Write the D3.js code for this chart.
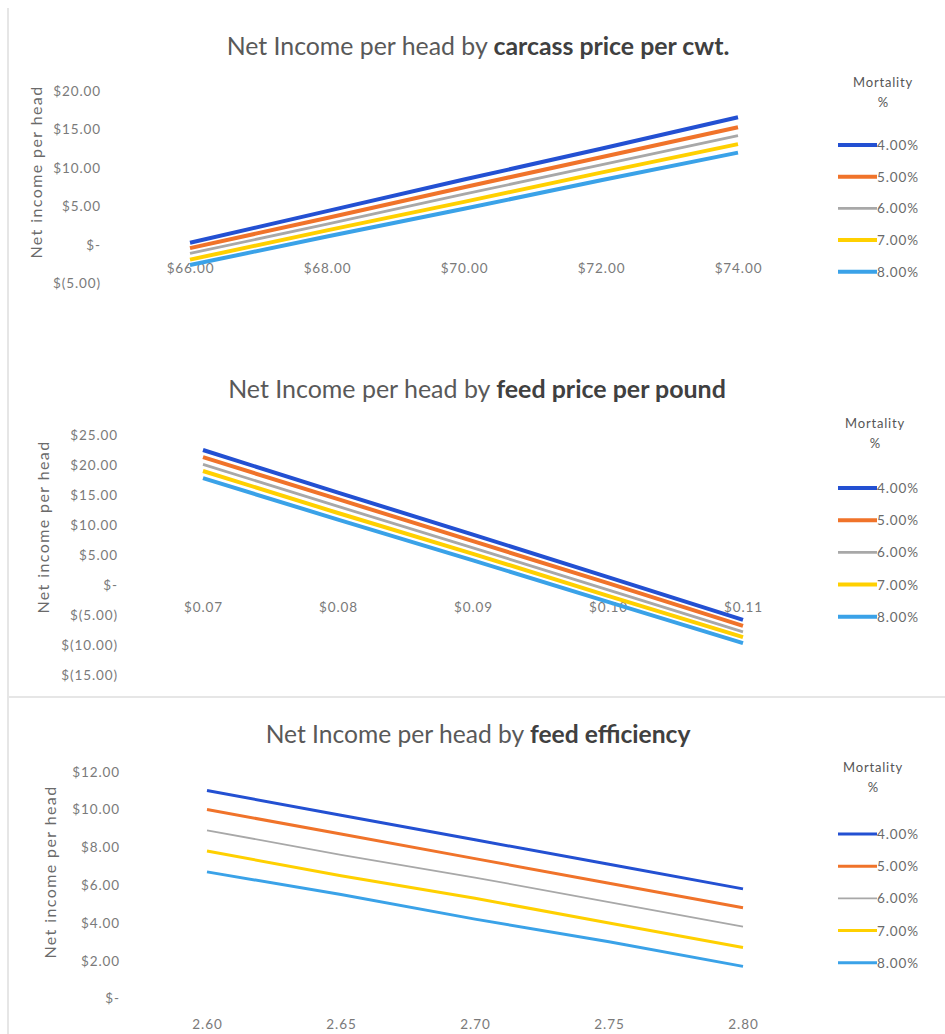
<!DOCTYPE html>
<html>
<head>
<meta charset="utf-8">
<script src="https://cdn.jsdelivr.net/npm/d3@7"></script>
<style>
  html, body { margin: 0; padding: 0; background: #fff; }
  svg { display: block; font-family: Lato, "Open Sans", sans-serif; }
</style>
</head>
<body>
<svg id="chart" width="945" height="1034"></svg>
<script>
// Mortality series shared by all three panels
const mortality = ["4.00%", "5.00%", "6.00%", "7.00%", "8.00%"];
const seriesColors = ["#2350d2", "#f0732a", "#a8a8a8", "#ffd000", "#3aa2e8"];

// Panel 1: carcass price per cwt
const carcassPrices = ["$66.00", "$68.00", "$70.00", "$72.00", "$74.00"];
const carcassTicks = [-5, 0, 5, 10, 15, 20];
const carcass4 = [0.3, 4.4, 8.5, 12.5, 16.6];
const carcass5 = [-0.4, 3.5, 7.5, 11.4, 15.3];
const carcass6 = [-1.1, 2.7, 6.6, 10.4, 14.2];
const carcass7 = [-1.9, 1.9, 5.6, 9.4, 13.1];
const carcass8 = [-2.6, 1.1, 4.7, 8.4, 12.0];

// Panel 2: feed price per pound
const feedPrices = ["$0.07", "$0.08", "$0.09", "$0.10", "$0.11"];
const feedPriceTicks = [-15, -10, -5, 0, 5, 10, 15, 20, 25];
const feedPrice4 = [22.5, 15.4, 8.4, 1.3, -5.8];
const feedPrice5 = [21.3, 14.3, 7.3, 0.3, -6.8];
const feedPrice6 = [20.1, 13.1, 6.2, -0.8, -7.8];
const feedPrice7 = [19.0, 12.0, 5.2, -1.8, -8.7];
const feedPrice8 = [17.8, 10.9, 4.1, -2.8, -9.7];

// Panel 3: feed efficiency
const feedEfficiency = ["2.60", "2.65", "2.70", "2.75", "2.80"];
const efficiencyTicks = [0, 2, 4, 6, 8, 10, 12];
const efficiency4 = [11.0, 9.7, 8.4, 7.1, 5.8];
const efficiency5 = [10.0, 8.7, 7.4, 6.1, 4.8];
const efficiency6 = [8.9, 7.6, 6.4, 5.1, 3.8];
const efficiency7 = [7.8, 6.5, 5.3, 4.0, 2.7];
const efficiency8 = [6.7, 5.5, 4.2, 3.0, 1.7];

const svg = d3.select("#chart");

// faint frame lines around the chart boxes
const frame = svg.append("g").attr("stroke", "#e6e6e6").attr("fill", "none");
frame.append("line").attr("x1", 8).attr("x2", 8).attr("y1", 8).attr("y2", 1034).attr("stroke-width", 2);
frame.append("line").attr("x1", 8).attr("x2", 945).attr("y1", 697).attr("y2", 697).attr("stroke-width", 2);

function money(v) {
  if (v === 0) return "$-";
  if (v < 0) return "$(" + Math.abs(v).toFixed(2) + ")";
  return "$" + v.toFixed(2);
}

const tickFont = 13.5;
const tickSpacing = 0.9;

function drawPanel(cfg) {
  const g = svg.append("g");

  // title: regular lead-in followed by a bold subject
  const title = g.append("text")
    .attr("x", cfg.titleX).attr("y", cfg.titleY)
    .attr("text-anchor", "middle")
    .attr("dominant-baseline", "central")
    .attr("font-size", 19)
    .attr("fill", "#595959");
  title.append("tspan").text("Net Income per head by ");
  title.append("tspan").attr("font-weight", "bold").attr("fill", "#404040").text(cfg.titleBold);
  const w = title.node().getComputedTextLength();
  title.attr("font-size", 19 * cfg.titleWidth / w);

  const x = d3.scalePoint().domain(cfg.categories).range(cfg.xRange);
  const y = d3.scaleLinear().domain(cfg.yDomain).range(cfg.yRange);

  // value axis
  const yAxis = g.append("g")
    .attr("transform", `translate(${cfg.yLabelX},0)`)
    .call(d3.axisLeft(y).tickValues(cfg.yTicks).tickSize(0).tickPadding(0).tickFormat(money));
  yAxis.select(".domain").remove();
  yAxis.selectAll("text")
    .attr("font-size", tickFont).attr("fill", "#7a7a7a")
    .attr("letter-spacing", tickSpacing)
    .attr("font-family", "Lato, 'Open Sans', sans-serif");

  // category axis, labels sitting just below the zero line
  const xAxis = g.append("g")
    .attr("transform", `translate(0,${y(cfg.xAxisAt)})`)
    .call(d3.axisBottom(x).tickSize(0).tickPadding(0));
  xAxis.select(".domain").remove();
  xAxis.selectAll("text")
    .attr("dy", 0).attr("y", cfg.xLabelOffset)
    .attr("dominant-baseline", "central")
    .attr("font-size", tickFont).attr("fill", "#7a7a7a")
    .attr("letter-spacing", tickSpacing)
    .attr("font-family", "Lato, 'Open Sans', sans-serif");

  // y axis title
  g.append("text")
    .attr("transform", `translate(${cfg.yTitleX},${cfg.yTitleY}) rotate(-90)`)
    .attr("text-anchor", "middle")
    .attr("dominant-baseline", "central")
    .attr("font-size", 16)
    .attr("letter-spacing", 1.4)
    .attr("fill", "#6a6a6a")
    .text("Net income per head");

  // series lines
  const line = d3.line().x((d, i) => x(cfg.categories[i])).y(d => y(d));
  cfg.series.forEach((vals, k) => {
    g.append("path")
      .datum(vals)
      .attr("fill", "none")
      .attr("stroke", seriesColors[k])
      .attr("stroke-width", k === 2 ? cfg.lineWidth - 1.2 : cfg.lineWidth)
      .attr("stroke-linecap", "butt")
      .attr("d", line);
  });

  // legend
  const lg = g.append("g");
  lg.append("text").attr("x", cfg.legendTitleX).attr("y", cfg.legendTitleY)
    .attr("text-anchor", "middle").attr("dominant-baseline", "central")
    .attr("font-size", 13).attr("letter-spacing", 0.8)
    .attr("fill", "#555").text("Mortality");
  lg.append("text").attr("x", cfg.legendTitleX).attr("y", cfg.legendTitleY + 20)
    .attr("text-anchor", "middle").attr("dominant-baseline", "central")
    .attr("font-size", 13).attr("fill", "#555").text("%");
  mortality.forEach((m, k) => {
    const yy = cfg.legendY + k * cfg.legendStep;
    lg.append("line")
      .attr("x1", 838).attr("x2", 877).attr("y1", yy).attr("y2", yy)
      .attr("stroke", seriesColors[k])
      .attr("stroke-width", k === 2 ? cfg.lineWidth - 1.2 : cfg.lineWidth);
    lg.append("text").attr("x", 877).attr("y", yy)
      .attr("dominant-baseline", "central")
      .attr("font-size", 13.5).attr("letter-spacing", 0.9)
      .attr("fill", "#6a6a6a").text(m);
  });
}

drawPanel({
  titleBold: "carcass price per cwt.", titleX: 478, titleY: 45, titleWidth: 503,
  categories: carcassPrices, xRange: [190, 738],
  yDomain: [-5, 20], yRange: [283.5, 91], yTicks: carcassTicks,
  yLabelX: 101, xAxisAt: 0, xLabelOffset: 23,
  yTitleX: 35, yTitleY: 172,
  series: [carcass4, carcass5, carcass6, carcass7, carcass8], lineWidth: 4,
  legendTitleX: 883, legendTitleY: 82, legendY: 145, legendStep: 31.7
});

drawPanel({
  titleBold: "feed price per pound", titleX: 477, titleY: 388, titleWidth: 498,
  categories: feedPrices, xRange: [203, 743],
  yDomain: [-15, 25], yRange: [675, 435], yTicks: feedPriceTicks,
  yLabelX: 118, xAxisAt: 0, xLabelOffset: 22,
  yTitleX: 42, yTitleY: 527,
  series: [feedPrice4, feedPrice5, feedPrice6, feedPrice7, feedPrice8], lineWidth: 4,
  legendTitleX: 875, legendTitleY: 423, legendY: 488, legendStep: 32.2
});

drawPanel({
  titleBold: "feed efficiency", titleX: 478, titleY: 733, titleWidth: 425,
  categories: feedEfficiency, xRange: [207, 743],
  yDomain: [0, 12], yRange: [998.5, 771.7], yTicks: efficiencyTicks,
  yLabelX: 120, xAxisAt: 0, xLabelOffset: 25,
  yTitleX: 49, yTitleY: 872,
  series: [efficiency4, efficiency5, efficiency6, efficiency7, efficiency8], lineWidth: 3,
  legendTitleX: 873, legendTitleY: 767, legendY: 834, legendStep: 32.2
});
</script>
</body>
</html>
